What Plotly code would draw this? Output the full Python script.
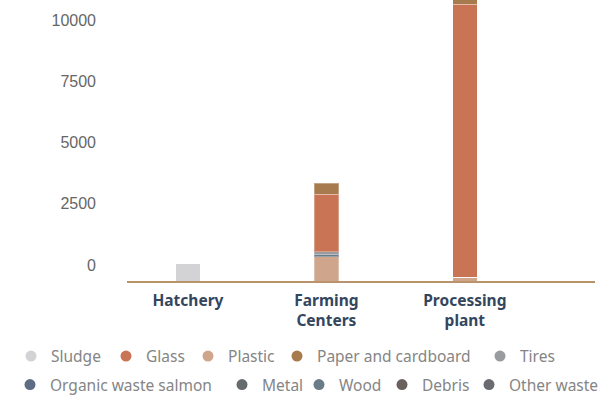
import plotly.graph_objects as go

categories = ["Hatchery", "Farming<br>Centers", "Processing<br>plant"]

# series values (tonnes)
sludge = [700, 0, 0]
glass = [0, 2340, 11130]
plastic = [0, 990, 160]
paper = [0, 450, 300]
tires = [0, 95, 0]
organic = [0, 0, 0]
metal = [0, 0, 0]
wood = [0, 110, 0]
debris = [0, 0, 0]
other = [0, 0, 0]

y_ticks = [0, 2500, 5000, 7500, 10000]
y_ticktext = ["0", "2500", "5000", "7500", "10000"]

colors = {
    "Sludge": "#d3d3d5",
    "Glass": "#c87455",
    "Plastic": "#cfa58b",
    "Paper and cardboard": "#a87b4e",
    "Tires": "#9a9b9f",
    "Organic waste salmon": "#5f6d84",
    "Metal": "#666b6e",
    "Wood": "#6a7c88",
    "Debris": "#6a615d",
    "Other waste": "#6a6b70",
}

legend_order = ["Sludge", "Glass", "Plastic", "Paper and cardboard", "Tires",
                "Organic waste salmon", "Metal", "Wood", "Debris", "Other waste"]
series = {
    "Sludge": sludge, "Glass": glass, "Plastic": plastic,
    "Paper and cardboard": paper, "Tires": tires,
    "Organic waste salmon": organic, "Metal": metal, "Wood": wood,
    "Debris": debris, "Other waste": other,
}
# stacking order bottom -> top
stack_order = ["Sludge", "Plastic", "Organic waste salmon", "Metal", "Debris",
               "Other waste", "Wood", "Tires", "Glass", "Paper and cardboard"]

# legend entry placement (text start x in px, row)
legend_pos = {
    "Sludge": (49, 0), "Glass": (144, 0), "Plastic": (226, 0),
    "Paper and cardboard": (315, 0), "Tires": (518, 0),
    "Organic waste salmon": (48, 1), "Metal": (260, 1), "Wood": (337, 1),
    "Debris": (420, 1), "Other waste": (507, 1),
}
row_y = [356.5, 385]

W, H = 606, 400

fig = go.Figure()
for name in stack_order:
    fig.add_trace(go.Bar(
        x=categories, y=series[name], name=name, showlegend=False,
        width=0.177,
        marker=dict(color=colors[name], line=dict(color="rgba(255,255,255,0.3)", width=1)),
    ))

legends = {}
for i, name in enumerate(legend_order):
    key = "legend" if i == 0 else f"legend{i + 1}"
    fig.add_trace(go.Scatter(
        x=[None], y=[None], mode="markers", name=name, legend=key,
        marker=dict(color=colors[name], size=11, symbol="circle"),
    ))
    tx, row = legend_pos[name]
    legends[key] = dict(
        orientation="h",
        x=(tx - 38) / W, xref="container", xanchor="left",
        y=1 - row_y[row] / H, yref="container", yanchor="middle",
        font=dict(family="Noto Sans", size=15.5, color="#858585"),
        itemwidth=30, bgcolor="rgba(0,0,0,0)", borderwidth=0,
    )

fig.update_layout(
    width=W, height=H,
    barmode="stack",
    margin=dict(l=127, r=11, t=0, b=119, autoexpand=False),
    plot_bgcolor="white", paper_bgcolor="white",
    showlegend=True,
    xaxis=dict(
        type="category", range=[-0.44, 2.94],
        showline=True, linecolor="#b9936b", linewidth=2,
        showgrid=False, ticks="", ticklabelstandoff=4,
        tickfont=dict(family="Noto Sans", size=15.5, color="#34465e", weight="bold"),
    ),
    yaxis=dict(
        range=[0, 11470], tickvals=y_ticks, ticktext=y_ticktext,
        showgrid=False, zeroline=False, showline=False, ticks="",
        ticklabelstandoff=30, ticklabelshift=-16,
        tickfont=dict(family="Liberation Sans", size=16, color="#666666"),
    ),
    **legends,
)

fig.write_html("out.html", config={"displayModeBar": False},
               post_script="document.body.style.margin='0px';")
